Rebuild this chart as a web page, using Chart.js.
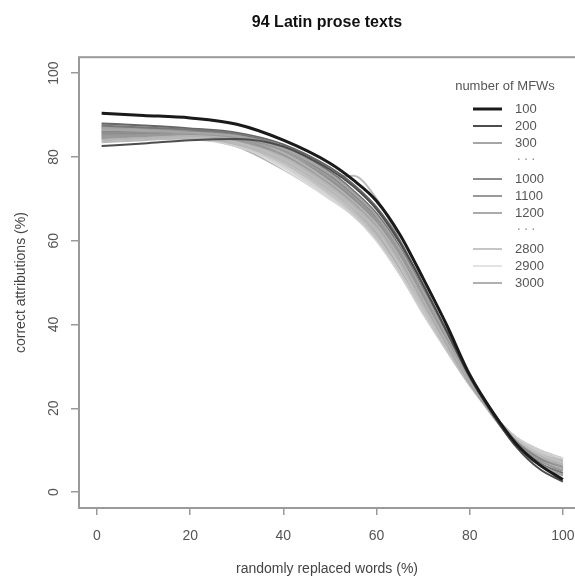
<!DOCTYPE html>
<html>
<head>
<meta charset="utf-8">
<script src="https://cdn.jsdelivr.net/npm/chart.js@4.4.1/dist/chart.umd.min.js"></script>
<style>
  html, body { margin: 0; padding: 0; background: #fff; }
  #wrap { width: 575px; height: 579px; }
</style>
</head>
<body>
<div id="wrap"><canvas id="chart" width="575" height="579"></canvas></div>
<script>
// randomly replaced words (%)
var replaced = [1, 10, 20, 30, 40, 50, 55, 60, 65, 70, 75, 80, 85, 90, 95, 100];
var xTicks = [0, 20, 40, 60, 80, 100];
var yTicks = [0, 20, 40, 60, 80, 100];

// correct attributions (%), one array per number of MFWs
var mfw100  = [90.4, 89.9, 89.3, 87.8, 84.0, 78.5, 74.5, 69.5, 61.5, 51.0, 40.0, 28.0, 19.0, 11.5, 6.5, 3.0];
var mfw200  = [82.6, 83.2, 84.0, 84.3, 82.5, 77.0, 73.0, 67.5, 59.5, 49.5, 38.5, 27.5, 18.5, 10.8, 5.5, 2.5];
var mfw300  = [86.5, 86.2, 85.8, 85.0, 82.0, 76.0, 71.5, 66.0, 58.0, 48.0, 37.5, 27.0, 18.5, 11.0, 6.5, 4.0];
var mfw400  = [87.5, 87.0, 86.5, 85.5, 82.5, 76.5, 72.0, 66.5, 58.5, 48.5, 38.0, 27.5, 19.0, 11.5, 7.0, 4.5];
var mfw500  = [85.0, 85.2, 85.5, 84.5, 81.5, 75.0, 70.5, 65.0, 57.0, 47.0, 37.0, 27.0, 18.5, 11.5, 7.5, 5.0];
var mfw600  = [88.0, 87.5, 86.8, 85.8, 83.0, 77.5, 73.5, 68.0, 60.0, 49.5, 38.5, 27.5, 18.5, 11.0, 6.5, 4.0];
var mfw700  = [84.0, 84.5, 85.0, 84.5, 81.0, 74.0, 69.5, 64.0, 56.0, 46.0, 36.0, 26.5, 18.5, 11.5, 7.5, 5.5];
var mfw800  = [86.0, 86.0, 86.0, 85.0, 81.5, 75.5, 71.0, 65.5, 57.5, 47.5, 37.5, 27.0, 19.0, 12.0, 8.0, 5.5];
var mfw900  = [87.0, 86.8, 86.2, 85.2, 82.0, 76.0, 71.5, 66.0, 58.0, 48.0, 37.5, 27.0, 19.0, 12.0, 8.0, 6.0];
var mfw1000 = [85.5, 85.5, 85.5, 84.5, 81.0, 74.5, 70.0, 64.5, 56.5, 46.5, 36.5, 26.5, 18.5, 11.5, 7.5, 5.5];
var mfw1100 = [84.5, 85.0, 85.2, 84.0, 80.5, 74.0, 69.5, 64.0, 56.0, 46.0, 36.0, 26.5, 18.5, 11.5, 8.0, 6.0];
var mfw1200 = [86.8, 86.5, 86.0, 84.8, 81.0, 74.5, 70.0, 64.0, 55.5, 45.5, 35.5, 26.0, 18.0, 11.5, 8.0, 6.0];
var mfw1300 = [85.8, 85.8, 85.3, 84.0, 80.0, 73.0, 68.5, 63.0, 55.0, 45.0, 35.5, 26.0, 18.5, 12.0, 8.5, 6.5];
var mfw1400 = [87.2, 86.8, 86.0, 84.5, 80.5, 73.5, 69.0, 63.5, 55.5, 45.5, 35.5, 26.0, 18.5, 12.0, 8.5, 6.5];
var mfw1500 = [84.2, 84.5, 84.8, 83.5, 79.5, 72.5, 68.0, 62.5, 54.5, 44.5, 35.0, 26.0, 18.5, 12.0, 8.5, 6.5];
var mfw1600 = [86.2, 86.0, 85.5, 84.0, 80.0, 73.0, 68.5, 62.5, 54.0, 44.0, 35.0, 26.0, 18.5, 12.5, 9.0, 7.0];
var mfw1700 = [85.2, 85.3, 85.0, 83.5, 79.5, 72.5, 68.0, 62.0, 53.5, 44.0, 35.0, 25.8, 18.5, 12.5, 9.0, 7.0];
var mfw1800 = [87.8, 87.2, 86.5, 85.0, 80.5, 73.5, 69.0, 63.0, 54.5, 44.5, 35.0, 26.0, 18.5, 12.5, 9.0, 7.0];
var mfw1900 = [83.5, 84.0, 84.5, 83.0, 79.0, 72.0, 67.5, 61.5, 53.5, 44.0, 34.5, 25.8, 18.5, 12.5, 9.0, 7.5];
var mfw2000 = [86.0, 85.8, 85.0, 83.5, 79.0, 72.0, 67.5, 61.5, 53.0, 43.5, 34.5, 25.8, 18.5, 12.5, 9.5, 7.5];
var mfw2100 = [84.8, 85.0, 84.8, 83.0, 78.5, 71.5, 67.0, 61.0, 53.0, 43.5, 34.5, 26.0, 18.5, 12.5, 9.5, 7.5];
var mfw2200 = [87.5, 87.0, 86.0, 84.2, 79.5, 72.5, 68.0, 62.0, 53.5, 43.5, 34.5, 26.0, 18.5, 13.0, 9.5, 7.5];
var mfw2300 = [85.5, 85.5, 85.0, 83.2, 78.5, 71.0, 66.5, 60.5, 52.5, 43.0, 34.0, 25.5, 18.5, 13.0, 9.5, 7.5];
var mfw2400 = [86.5, 86.2, 85.5, 83.8, 78.5, 70.5, 66.2, 60.0, 52.0, 43.0, 34.0, 25.8, 18.5, 13.0, 9.5, 8.0];
var mfw2500 = [84.0, 84.3, 84.2, 82.5, 78.0, 70.5, 66.0, 60.5, 52.5, 43.0, 34.0, 25.8, 18.5, 13.0, 10.0, 8.0];
var mfw2600 = [86.8, 86.5, 85.8, 84.5, 80.5, 75.0, 75.5, 70.0, 60.0, 47.0, 36.0, 26.5, 18.5, 12.5, 9.0, 7.0];
var mfw2700 = [85.2, 85.2, 84.8, 82.8, 77.5, 70.0, 66.0, 60.0, 52.0, 42.5, 34.0, 25.5, 18.5, 13.0, 10.0, 8.0];
var mfw2800 = [87.0, 86.6, 85.5, 83.5, 78.0, 70.5, 66.5, 60.5, 52.0, 43.0, 34.0, 25.5, 18.5, 13.0, 10.0, 8.0];
var mfw2900 = [85.8, 85.6, 85.0, 83.0, 77.2, 70.0, 66.0, 60.0, 52.0, 42.5, 33.8, 25.5, 18.5, 13.0, 10.0, 8.0];
var mfw3000 = [84.6, 84.8, 84.5, 82.5, 77.0, 70.0, 66.0, 60.2, 52.2, 43.0, 34.0, 25.6, 18.5, 13.0, 10.0, 8.0];

var mfwLabels = ["100", "200", "300", "400", "500", "600", "700", "800", "900", "1000",
  "1100", "1200", "1300", "1400", "1500", "1600", "1700", "1800", "1900", "2000",
  "2100", "2200", "2300", "2400", "2500", "2600", "2700", "2800", "2900", "3000"];
var mfwSeries = [mfw100, mfw200, mfw300, mfw400, mfw500, mfw600, mfw700, mfw800, mfw900, mfw1000,
  mfw1100, mfw1200, mfw1300, mfw1400, mfw1500, mfw1600, mfw1700, mfw1800, mfw1900, mfw2000,
  mfw2100, mfw2200, mfw2300, mfw2400, mfw2500, mfw2600, mfw2700, mfw2800, mfw2900, mfw3000];
var legendShown = ["100", "200", "300", null, "1000", "1100", "1200", null, "2800", "2900", "3000"];

// grey levels, R style
var greys = ["#1a1a1a", "#4d4d4d", "#a6a6a6", "#777777", "#999999", "#666666", "#b3b3b3", "#888888", "#9e9e9e", "#8c8c8c",
  "#999999", "#ababab", "#b5b5b5", "#a0a0a0", "#bdbdbd", "#c2c2c2", "#adadad", "#c8c8c8", "#b8b8b8", "#cccccc",
  "#bfbfbf", "#d1d1d1", "#c4c4c4", "#d6d6d6", "#cfcfcf", "#bbbbbb", "#d9d9d9", "#c6c6c6", "#e3e3e3", "#b0b0b0"];

var FONT = "'Liberation Sans', Arial, Helvetica, sans-serif";

var datasets = mfwSeries.map(function (vals, i) {
  return {
    label: mfwLabels[i],
    data: vals.map(function (v, j) { return { x: replaced[j], y: v }; }),
    borderColor: greys[i],
    borderWidth: i === 0 ? 3 : 2,
    pointRadius: 0,
    fill: false,
    cubicInterpolationMode: "monotone"
  };
});

// box round the plot + legend, drawn like R does it
var rPlot = {
  id: "rPlot",
  beforeDatasetsDraw: function (chart) {
    var ctx = chart.ctx, a = chart.chartArea;
    var right = chart.scales.x.getPixelForValue(104);
    ctx.save();
    ctx.strokeStyle = "#9a9a9a";
    ctx.lineWidth = 2;
    ctx.strokeRect(a.left, a.top, right - a.left, a.bottom - a.top);
    ctx.restore();
  },
  afterDraw: function (chart) {
    var ctx = chart.ctx;
    ctx.save();
    ctx.fillStyle = "#555";
    ctx.font = "13px " + FONT;
    ctx.textAlign = "center";
    ctx.textBaseline = "middle";
    ctx.fillText("number of MFWs", 505, 86);
    var y = 109;
    legendShown.forEach(function (lab) {
      if (lab === null) {
        ctx.fillStyle = "#888";
        ctx.textAlign = "left";
        ctx.fillText(". . .", 517, y - 4);
        y += 19;
        return;
      }
      var i = mfwLabels.indexOf(lab);
      ctx.strokeStyle = greys[i];
      ctx.lineWidth = i === 0 ? 3 : 2;
      ctx.beginPath();
      ctx.moveTo(473, y);
      ctx.lineTo(502, y);
      ctx.stroke();
      ctx.fillStyle = "#555";
      ctx.textAlign = "left";
      ctx.fillText(lab, 515, y);
      y += 17;
    });
    ctx.restore();
  }
};

new Chart(document.getElementById("chart"), {
  type: "line",
  data: { datasets: datasets },
  plugins: [rPlot],
  options: {
    responsive: false,
    animation: false,
    layout: { padding: 0 },
    plugins: {
      legend: { display: false },
      tooltip: { enabled: false },
      title: {
        display: true,
        text: "94 Latin prose texts",
        fullSize: false,
        color: "#111",
        font: { family: FONT, size: 16, weight: "bold" },
        padding: { top: 13, bottom: 25 }
      }
    },
    scales: {
      x: {
        type: "linear",
        min: -3.86,
        max: 102.6,
        afterBuildTicks: function (s) { s.ticks = xTicks.map(function (v) { return { value: v }; }); },
        afterFit: function (s) { s.height = 71; s.paddingLeft = 0; s.paddingRight = 0; },
        grid: { display: true, drawOnChartArea: false, drawTicks: true, tickLength: 7, color: "#9a9a9a", lineWidth: 1.5 },
        border: { display: false },
        ticks: { color: "#555", font: { family: FONT, size: 14 }, padding: 13, maxRotation: 0 },
        title: { display: true, text: "randomly replaced words (%)", color: "#444", font: { family: FONT, size: 14 }, padding: { top: 0, bottom: 1 } }
      },
      y: {
        type: "linear",
        min: -3.8,
        max: 103.8,
        afterBuildTicks: function (s) { s.ticks = yTicks.map(function (v) { return { value: v }; }); },
        afterFit: function (s) { s.width = 79; s.paddingTop = 0; s.paddingBottom = 0; },
        grid: { display: true, drawOnChartArea: false, drawTicks: true, tickLength: 8, color: "#9a9a9a", lineWidth: 1.5 },
        border: { display: false },
        ticks: { color: "#555", font: { family: FONT, size: 14 }, padding: 5, minRotation: 90, maxRotation: 90, crossAlign: "center" },
        title: { display: true, text: "correct attributions (%)", color: "#444", font: { family: FONT, size: 14 }, padding: { top: 13, bottom: 0 } }
      }
    }
  }
});
</script>
</body>
</html>
